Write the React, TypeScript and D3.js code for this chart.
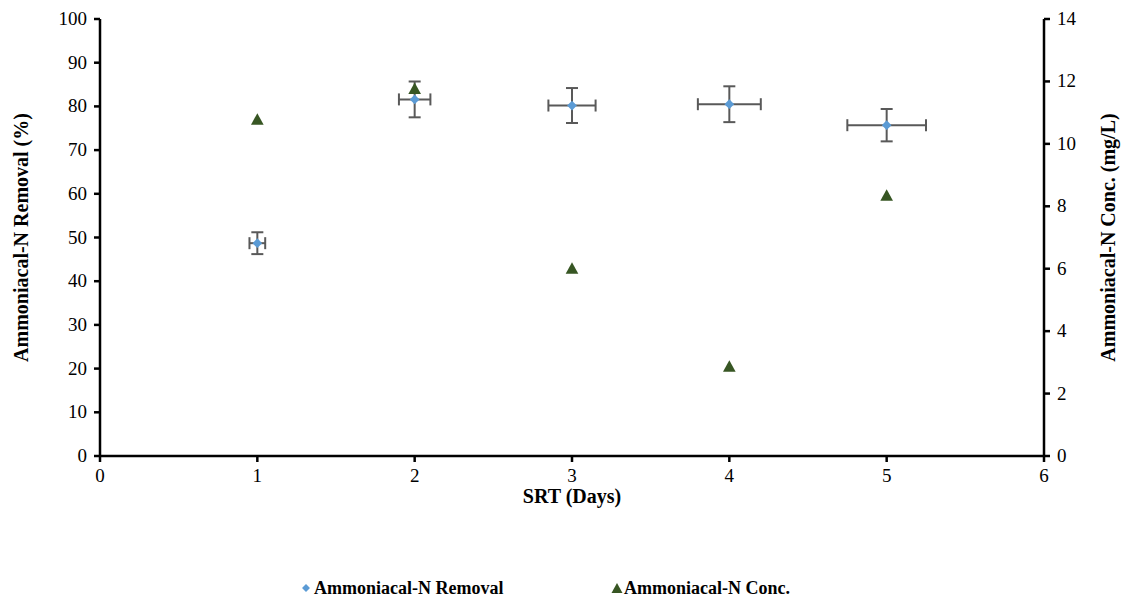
import React from 'react';
import * as d3 from 'd3';

// SRT values (days)
const srtDays = [1, 2, 3, 4, 5];
// Ammoniacal-N removal (%) with error bars
const removalPct = [48.7, 81.6, 80.2, 80.5, 75.7];
const removalErrY = [2.5, 4.1, 4.0, 4.1, 3.7];
const srtErrX = [0.05, 0.1, 0.15, 0.2, 0.25];
// Ammoniacal-N concentration (mg/L)
const concMgL = [10.8, 11.78, 6.02, 2.88, 8.36];

const xTicks = [0, 1, 2, 3, 4, 5, 6];
const leftTicks = [0, 10, 20, 30, 40, 50, 60, 70, 80, 90, 100];
const rightTicks = [0, 2, 4, 6, 8, 10, 12, 14];

const W = 1126;
const H = 602;
const margin = { top: 19, right: 82, bottom: 146, left: 100 };
const FONT = "'Times New Roman', 'Liberation Serif', 'DejaVu Serif', serif";
const BLUE = '#5b9bd5';
const GREEN = '#375623';
const ERR = '#595959';

export default function App() {
  const x = d3.scaleLinear().domain([0, 6]).range([margin.left, W - margin.right]);
  const yL = d3.scaleLinear().domain([0, 100]).range([H - margin.bottom, margin.top]);
  const yR = d3.scaleLinear().domain([0, 14]).range([H - margin.bottom, margin.top]);
  const x0 = x(0);
  const x1 = x(6);
  const yb = yL(0);
  const yt = yL(100);

  const diamond = d3.symbol().type(d3.symbolDiamond2).size(60)();
  const triangle = (cx: number, cy: number, s: number) =>
    `M${cx},${cy - s * 0.5}L${cx + s * 0.55},${cy + s * 0.5}L${cx - s * 0.55},${cy + s * 0.5}Z`;

  return (
    <svg width={W} height={H} style={{ position: 'absolute', left: 0, top: 0, background: '#fff', fontFamily: FONT }}>
      {/* axes */}
      <g stroke="#000" strokeWidth={2.5}>
        <line x1={x0} x2={x1} y1={yb} y2={yb} />
        <line x1={x0} x2={x0} y1={yt} y2={yb} />
        <line x1={x1} x2={x1} y1={yt} y2={yb} />
        {xTicks.map(t => (
          <line key={'xt' + t} x1={x(t)} x2={x(t)} y1={yb} y2={yb + 6} />
        ))}
        {leftTicks.map(t => (
          <line key={'lt' + t} x1={x0 - 6} x2={x0} y1={yL(t)} y2={yL(t)} />
        ))}
        {rightTicks.map(t => (
          <line key={'rt' + t} x1={x1} x2={x1 + 6} y1={yR(t)} y2={yR(t)} />
        ))}
      </g>
      <g fontSize={19} fill="#000">
        {xTicks.map(t => (
          <text key={'xl' + t} x={x(t)} y={yb + 26} textAnchor="middle">{t}</text>
        ))}
        {leftTicks.map(t => (
          <text key={'ll' + t} x={x0 - 13} y={yL(t) + 6} textAnchor="end">{t}</text>
        ))}
        {rightTicks.map(t => (
          <text key={'rl' + t} x={x1 + 13} y={yR(t) + 6} textAnchor="start">{t}</text>
        ))}
      </g>
      {/* titles */}
      <g fontSize={20} fontWeight="bold" fill="#000">
        <text x={(x0 + x1) / 2} y={503} textAnchor="middle">SRT (Days)</text>
        <text transform={`translate(28,${(yt + yb) / 2}) rotate(-90)`} textAnchor="middle">Ammoniacal-N Removal (%)</text>
        <text transform={`translate(1115,${(yt + yb) / 2}) rotate(-90)`} textAnchor="middle">Ammoniacal-N Conc. (mg/L)</text>
      </g>
      {/* removal error bars */}
      <g stroke={ERR} strokeWidth={2}>
        {srtDays.map((d, i) => {
          const cx = x(d);
          const cy = yL(removalPct[i]);
          const ya = yL(removalPct[i] + removalErrY[i]);
          const yz = yL(removalPct[i] - removalErrY[i]);
          const xa = x(d - srtErrX[i]);
          const xz = x(d + srtErrX[i]);
          return (
            <g key={'e' + i}>
              <line x1={cx} x2={cx} y1={ya} y2={yz} />
              <line x1={cx - 6} x2={cx + 6} y1={ya} y2={ya} />
              <line x1={cx - 6} x2={cx + 6} y1={yz} y2={yz} />
              <line x1={xa} x2={xz} y1={cy} y2={cy} />
              <line x1={xa} x2={xa} y1={cy - 6} y2={cy + 6} />
              <line x1={xz} x2={xz} y1={cy - 6} y2={cy + 6} />
            </g>
          );
        })}
      </g>
      {/* conc triangles */}
      {srtDays.map((d, i) => (
        <path key={'t' + i} d={triangle(x(d), yR(concMgL[i]), 11.5)} fill={GREEN} />
      ))}
      {/* removal diamonds */}
      {srtDays.map((d, i) => (
        <path key={'d' + i} d={diamond!} transform={`translate(${x(d)},${yL(removalPct[i])})`} fill={BLUE} />
      ))}
      {/* legend */}
      <g fontSize={18} fontWeight="bold" fill="#000">
        <path d={d3.symbol().type(d3.symbolDiamond2).size(40)()!} transform="translate(306,588)" fill={BLUE} />
        <text x={314} y={594}>Ammoniacal-N Removal</text>
        <path d={triangle(617, 588, 10)} fill={GREEN} />
        <text x={624} y={594}>Ammoniacal-N Conc.</text>
      </g>
    </svg>
  );
}
